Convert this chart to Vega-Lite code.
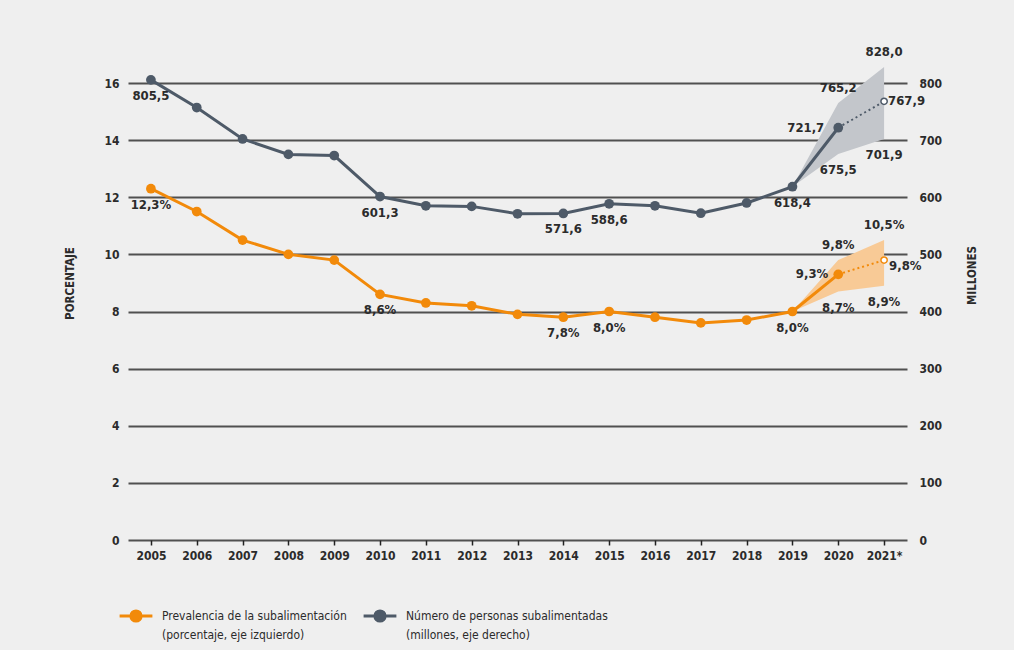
{
  "$schema": "https://vega.github.io/schema/vega-lite/v6.json",
  "width": 779,
  "height": 457,
  "autosize": {"type": "none"},
  "padding": {"left": 128, "top": 83, "right": 107, "bottom": 110},
  "background": "#efefef",
  "config": {
    "view": {"stroke": null},
    "font": "DejaVu Sans Condensed, sans-serif",
    "text": {"font": "DejaVu Sans Condensed, sans-serif", "fontSize": 13, "fontWeight": "bold", "color": "#2b2b2b"},
    "axis": {"labelFont": "DejaVu Sans Condensed, sans-serif", "labelFontSize": 12, "labelColor": "#2b2b2b", "titleColor": "#2b2b2b", "titleFont": "DejaVu Sans Condensed, sans-serif", "titleFontWeight": "bold", "titleFontSize": 11.5}
  },
  "datasets": {
    "pct": [
      {"anio": 2005, "v": 12.3}, {"anio": 2006, "v": 11.5}, {"anio": 2007, "v": 10.5},
      {"anio": 2008, "v": 10.0}, {"anio": 2009, "v": 9.8}, {"anio": 2010, "v": 8.6},
      {"anio": 2011, "v": 8.3}, {"anio": 2012, "v": 8.2}, {"anio": 2013, "v": 7.9},
      {"anio": 2014, "v": 7.8}, {"anio": 2015, "v": 8.0}, {"anio": 2016, "v": 7.8},
      {"anio": 2017, "v": 7.6}, {"anio": 2018, "v": 7.7}, {"anio": 2019, "v": 8.0},
      {"anio": 2020, "v": 9.3}
    ],
    "pct_proy": [{"anio": 2020, "v": 9.3}, {"anio": 2021, "v": 9.8}],
    "pct_banda": [
      {"anio": 2019, "lo": 8.0, "hi": 8.0},
      {"anio": 2020, "lo": 8.7, "hi": 9.8},
      {"anio": 2021, "lo": 8.9, "hi": 10.5}
    ],
    "pct_abajo": [
      {"anio": 2005, "v": 12.3, "t": "12,3%"}, {"anio": 2010, "v": 8.6, "t": "8,6%"},
      {"anio": 2014, "v": 7.8, "t": "7,8%"}, {"anio": 2015, "v": 8.0, "t": "8,0%"},
      {"anio": 2019, "v": 8.0, "t": "8,0%"}, {"anio": 2020, "v": 8.7, "t": "8,7%"},
      {"anio": 2021, "v": 8.9, "t": "8,9%"}
    ],
    "pct_arriba": [{"anio": 2020, "v": 9.8, "t": "9,8%"}, {"anio": 2021, "v": 10.5, "t": "10,5%"}],
    "pct_izq": [{"anio": 2020, "v": 9.3, "t": "9,3%"}],
    "pct_der": [{"anio": 2021, "v": 9.8, "t": "9,8%"}],
    "mill": [
      {"anio": 2005, "v": 805.5}, {"anio": 2006, "v": 757}, {"anio": 2007, "v": 702},
      {"anio": 2008, "v": 675}, {"anio": 2009, "v": 673}, {"anio": 2010, "v": 601.3},
      {"anio": 2011, "v": 585}, {"anio": 2012, "v": 584}, {"anio": 2013, "v": 571},
      {"anio": 2014, "v": 571.6}, {"anio": 2015, "v": 588.6}, {"anio": 2016, "v": 585},
      {"anio": 2017, "v": 572}, {"anio": 2018, "v": 590}, {"anio": 2019, "v": 618.4},
      {"anio": 2020, "v": 721.7}
    ],
    "mill_proy": [{"anio": 2020, "v": 721.7}, {"anio": 2021, "v": 767.9}],
    "mill_banda": [
      {"anio": 2019, "lo": 618.4, "hi": 618.4},
      {"anio": 2020, "lo": 675.5, "hi": 765.2},
      {"anio": 2021, "lo": 701.9, "hi": 828.0}
    ],
    "mill_abajo": [
      {"anio": 2005, "v": 805.5, "t": "805,5"}, {"anio": 2010, "v": 601.3, "t": "601,3"},
      {"anio": 2014, "v": 571.6, "t": "571,6"}, {"anio": 2015, "v": 588.6, "t": "588,6"},
      {"anio": 2019, "v": 618.4, "t": "618,4"}, {"anio": 2020, "v": 675.5, "t": "675,5"},
      {"anio": 2021, "v": 701.9, "t": "701,9"}
    ],
    "mill_arriba": [{"anio": 2020, "v": 765.2, "t": "765,2"}, {"anio": 2021, "v": 828.0, "t": "828,0"}],
    "mill_izq": [{"anio": 2020, "v": 721.7, "t": "721,7"}],
    "mill_der": [{"anio": 2021, "v": 767.9, "t": "767,9"}]
  },
  "resolve": {"scale": {"y": "independent"}},
  "layer": [
    {
      "layer": [
        {
          "data": {"name": "pct_banda"},
          "mark": {"type": "area", "color": "#f8ca96"},
          "encoding": {
            "x": {"field": "anio", "type": "quantitative", "scale": {"domain": [2004.5, 2021.5], "nice": false},
              "axis": {"title": null, "values": [2005,2006,2007,2008,2009,2010,2011,2012,2013,2014,2015,2016,2017,2018,2019,2020,2021],
                "labelExpr": "datum.value == 2021 ? '2021*' : toString(datum.value)", "grid": false, "domain": false,
                "ticks": true, "tickSize": 5, "tickColor": "#222222", "tickWidth": 1.5, "labelPadding": 5, "labelFontWeight": "bold"}},
            "y": {"field": "lo", "type": "quantitative", "scale": {"domain": [0, 16], "nice": false},
              "axis": {"title": "PORCENTAJE", "values": [0,2,4,6,8,10,12,14,16], "grid": true, "gridColor": "#505050", "gridWidth": 2,
                "domain": false, "ticks": false, "labelPadding": 9, "titlePadding": 28, "titleAngle": 270, "titleY": 200, "labelFontWeight": "bold"}},
            "y2": {"field": "hi"}
          }
        },
        {
          "data": {"name": "pct_proy"},
          "mark": {"type": "line", "color": "#f28a0a", "strokeWidth": 2, "strokeDash": [2, 3]},
          "encoding": {"x": {"field": "anio", "type": "quantitative"}, "y": {"field": "v", "type": "quantitative"}}
        },
        {
          "data": {"name": "pct"},
          "mark": {"type": "line", "strokeWidth": 3, "point": {"filled": true, "size": 95, "opacity": 1}},
          "encoding": {
            "x": {"field": "anio", "type": "quantitative"},
            "y": {"field": "v", "type": "quantitative"},
            "color": {"datum": "Prevalencia de la subalimentación", "type": "nominal",
              "scale": {"domain": ["Prevalencia de la subalimentación", "Número de personas subalimentadas"], "range": ["#f28a0a", "#4e5a68"]},
              "legend": {"orient": "none", "legendX": -4, "legendY": 521, "direction": "horizontal", "columns": 2, "title": null,
                "symbolType": "M-1.6,0L1.6,0M-0.5,0A0.5,0.5,0,1,1,0.5,0A0.5,0.5,0,1,1,-0.5,0Z",
                "symbolSize": 420, "symbolStrokeWidth": 3, "labelOffset": 14, "columnPadding": 10, "labelLimit": 400,
                "labelFont": "DejaVu Sans Condensed, sans-serif", "labelFontSize": 12, "labelColor": "#2b2b2b",
                "labelBaseline": "middle",
                "labelExpr": "datum.label == 'Prevalencia de la subalimentación' ? ['Prevalencia de la subalimentación', '(porcentaje, eje izquierdo)'] : ['Número de personas subalimentadas', '(millones, eje derecho)']",
                "encode": {"labels": {"update": {"lineHeight": {"value": 19}}}, "symbols": {"update": {"fill": {"field": "value", "scale": "color"}, "fillOpacity": {"value": 1}}}}}
            }
          }
        },
        {
          "data": {"values": [{"anio": 2021, "v": 9.8}]},
          "mark": {"type": "point", "filled": true, "fill": "#ffffff", "stroke": "#f28a0a", "strokeWidth": 1.5, "size": 40, "opacity": 1},
          "encoding": {"x": {"field": "anio", "type": "quantitative"}, "y": {"field": "v", "type": "quantitative"}}
        },
        {
          "data": {"name": "pct_abajo"},
          "mark": {"type": "text", "baseline": "middle", "align": "center", "dy": 16},
          "encoding": {"x": {"field": "anio", "type": "quantitative"}, "y": {"field": "v", "type": "quantitative"}, "text": {"field": "t"}}
        },
        {
          "data": {"name": "pct_arriba"},
          "mark": {"type": "text", "baseline": "middle", "align": "center", "dy": -15},
          "encoding": {"x": {"field": "anio", "type": "quantitative"}, "y": {"field": "v", "type": "quantitative"}, "text": {"field": "t"}}
        },
        {
          "data": {"name": "pct_izq"},
          "mark": {"type": "text", "baseline": "middle", "align": "right", "dx": -10},
          "encoding": {"x": {"field": "anio", "type": "quantitative"}, "y": {"field": "v", "type": "quantitative"}, "text": {"field": "t"}}
        },
        {
          "data": {"name": "pct_der"},
          "mark": {"type": "text", "baseline": "middle", "align": "left", "dx": 5, "dy": 6},
          "encoding": {"x": {"field": "anio", "type": "quantitative"}, "y": {"field": "v", "type": "quantitative"}, "text": {"field": "t"}}
        }
      ]
    },
    {
      "layer": [
        {
          "data": {"name": "mill_banda"},
          "mark": {"type": "area", "color": "#c3c6cb"},
          "encoding": {
            "x": {"field": "anio", "type": "quantitative"},
            "y": {"field": "lo", "type": "quantitative", "scale": {"domain": [0, 800], "nice": false},
              "axis": {"title": "MILLONES", "orient": "right", "values": [0,100,200,300,400,500,600,700,800], "grid": false,
                "domain": false, "ticks": false, "labelPadding": 12, "titlePadding": 36, "titleAngle": 270, "titleY": 192, "labelFontWeight": "bold"}},
            "y2": {"field": "hi"}
          }
        },
        {
          "data": {"name": "mill_proy"},
          "mark": {"type": "line", "color": "#4e5a68", "strokeWidth": 2, "strokeDash": [2, 3]},
          "encoding": {"x": {"field": "anio", "type": "quantitative"}, "y": {"field": "v", "type": "quantitative"}}
        },
        {
          "data": {"name": "mill"},
          "mark": {"type": "line", "strokeWidth": 3, "point": {"filled": true, "size": 95, "opacity": 1}},
          "encoding": {
            "x": {"field": "anio", "type": "quantitative"},
            "y": {"field": "v", "type": "quantitative"},
            "color": {"datum": "Número de personas subalimentadas", "type": "nominal"}
          }
        },
        {
          "data": {"values": [{"anio": 2021, "v": 767.9}]},
          "mark": {"type": "point", "filled": true, "fill": "#ffffff", "stroke": "#4e5a68", "strokeWidth": 1.5, "size": 40, "opacity": 1},
          "encoding": {"x": {"field": "anio", "type": "quantitative"}, "y": {"field": "v", "type": "quantitative"}}
        },
        {
          "data": {"name": "mill_abajo"},
          "mark": {"type": "text", "baseline": "middle", "align": "center", "dy": 16},
          "encoding": {"x": {"field": "anio", "type": "quantitative"}, "y": {"field": "v", "type": "quantitative"}, "text": {"field": "t"}}
        },
        {
          "data": {"name": "mill_arriba"},
          "mark": {"type": "text", "baseline": "middle", "align": "center", "dy": -15},
          "encoding": {"x": {"field": "anio", "type": "quantitative"}, "y": {"field": "v", "type": "quantitative"}, "text": {"field": "t"}}
        },
        {
          "data": {"name": "mill_izq"},
          "mark": {"type": "text", "baseline": "middle", "align": "right", "dx": -14},
          "encoding": {"x": {"field": "anio", "type": "quantitative"}, "y": {"field": "v", "type": "quantitative"}, "text": {"field": "t"}}
        },
        {
          "data": {"name": "mill_der"},
          "mark": {"type": "text", "baseline": "middle", "align": "left", "dx": 4},
          "encoding": {"x": {"field": "anio", "type": "quantitative"}, "y": {"field": "v", "type": "quantitative"}, "text": {"field": "t"}}
        }
      ]
    }
  ]
}
